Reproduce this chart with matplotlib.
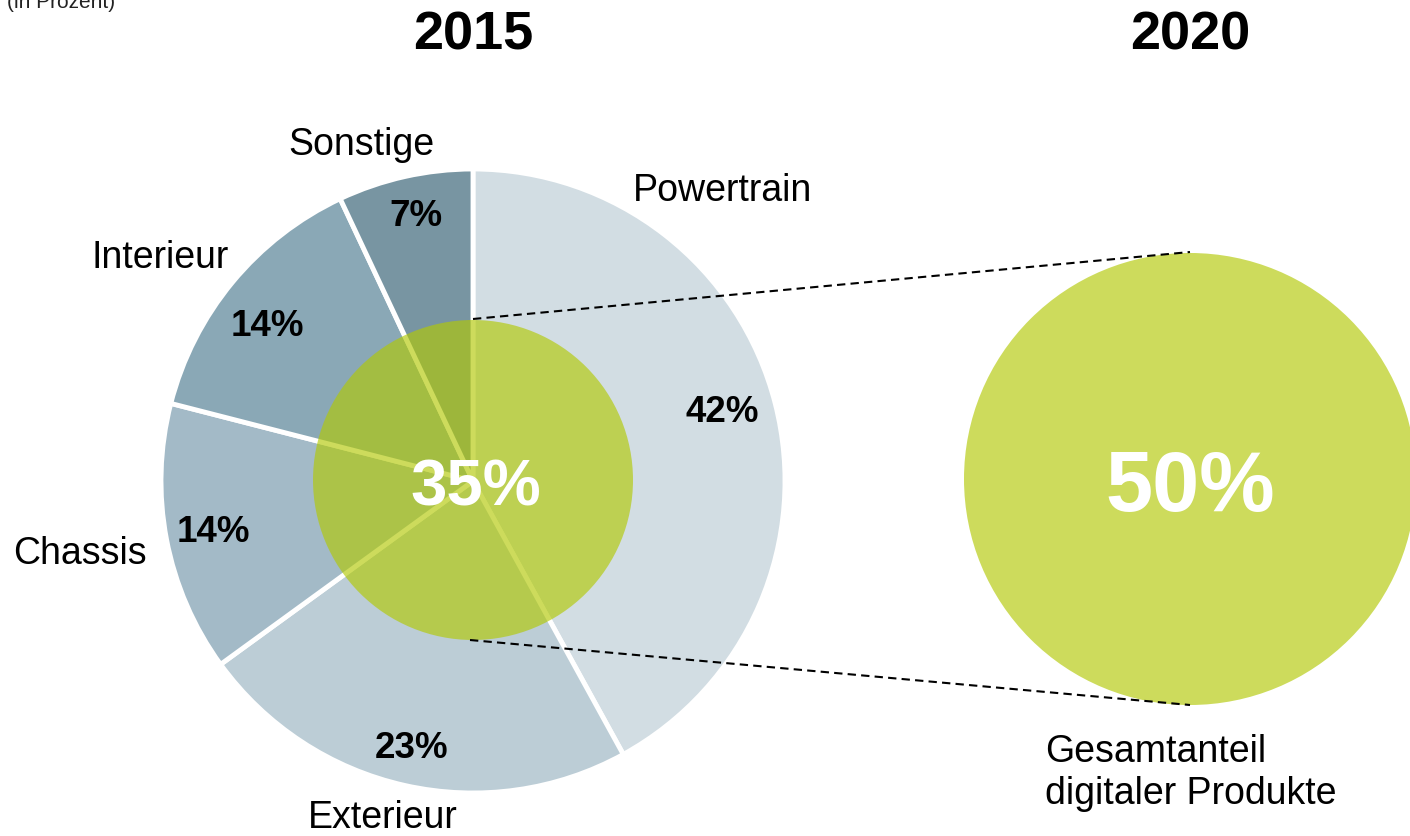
import matplotlib.pyplot as plt
from matplotlib.patches import Circle

plt.rcParams['font.family'] = ['Liberation Sans', 'DejaVu Sans']

# Data
segments = ['Powertrain', 'Exterieur', 'Chassis', 'Interieur', 'Sonstige']
shares = [42, 23, 14, 14, 7]
colors = ['#D2DDE3', '#BCCDD6', '#A3BAC7', '#8AA8B6', '#7895A2']
years = ['2015', '2020']
digital_share = [35, 50]

W, H = 1410, 837

def yy(y_img):
    # image coords (top-down) -> data coords (bottom-up)
    return H - y_img

fig = plt.figure(figsize=(W / 100, H / 100), dpi=100)
ax = fig.add_axes([0, 0, 1, 1])

# 2015 pie
cx, cy, r = 473, yy(482), 312
ax.pie(shares, colors=colors, startangle=90, counterclock=False,
       center=(cx, cy), radius=r, frame=True,
       wedgeprops=dict(edgecolor='white', linewidth=3.5))
ax.set_xlim(0, W)
ax.set_ylim(0, H)
ax.set_aspect('equal')
ax.axis('off')

green = '#B2C904'
ax.add_patch(Circle((cx, yy(481)), 160, facecolor=green, alpha=0.65,
                    edgecolor='none', zorder=5))
ax.add_patch(Circle((1190, yy(480)), 226, facecolor=green, alpha=0.65,
                    edgecolor='none', zorder=5))

# connector lines
ax.plot([473, 1190], [yy(320), yy(253)], color='black', ls=(0, (4, 2.5)), lw=1.5, zorder=6)
ax.plot([470, 1190], [yy(641), yy(706)], color='black', ls=(0, (4, 2.5)), lw=1.5, zorder=6)

# titles
ax.text(473, yy(35), years[0], ha='center', va='center', fontsize=39, fontweight='bold')
ax.text(1190, yy(35), years[1], ha='center', va='center', fontsize=39, fontweight='bold')
ax.text(7, yy(2), '(in Prozent)', ha='left', va='center', fontsize=15, color='#222222')

# segment names and values
name_pos = [(722, 191), (383, 818), (80, 554), (160, 258), (361, 145)]
val_pos = [(722, 413), (412, 749), (213, 533), (267, 326), (416, 216)]
for name, val, (nx, ny), (vx, vy) in zip(segments, shares, name_pos, val_pos):
    ax.text(nx, yy(ny), name, ha='center', va='center', fontsize=27)
    ax.text(vx, yy(vy), f'{val}%', ha='center', va='center', fontsize=26.5,
            fontweight='bold', zorder=7)

ax.text(476, yy(489), f'{digital_share[0]}%', ha='center', va='center',
        fontsize=47, fontweight='bold', color='white', zorder=7)
ax.text(1190, yy(489), f'{digital_share[1]}%', ha='center', va='center',
        fontsize=61, fontweight='bold', color='white', zorder=7)
ax.text(1045, yy(773), 'Gesamtanteil\ndigitaler Produkte', ha='left', va='center',
        fontsize=27, linespacing=1.2)

fig.savefig('out.png', dpi=100)
